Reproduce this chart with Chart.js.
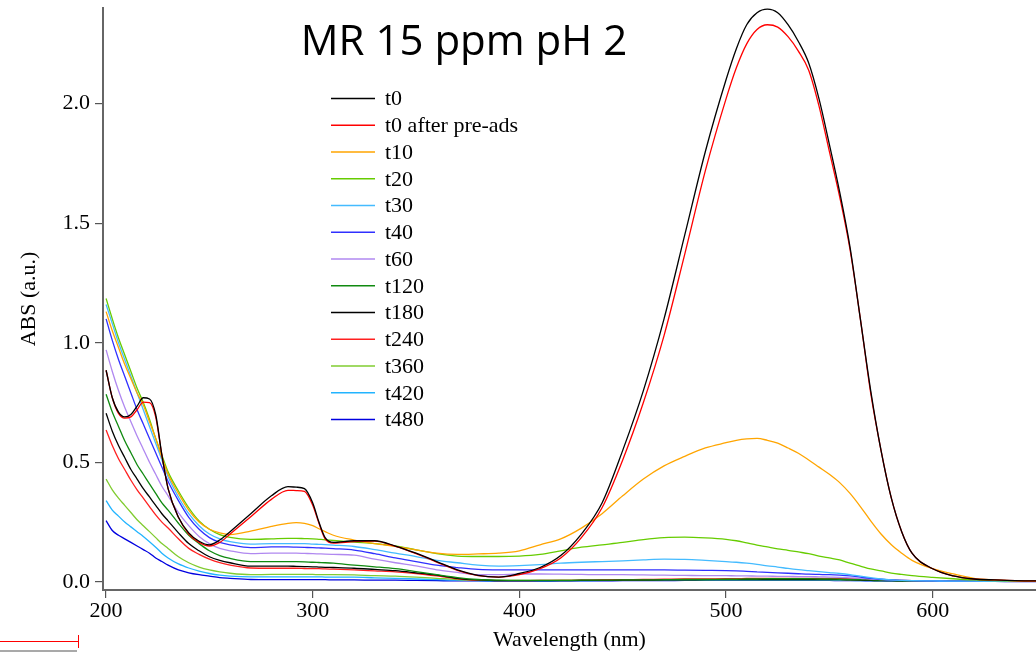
<!DOCTYPE html>
<html><head><meta charset="utf-8">
<script src="https://cdn.jsdelivr.net/npm/chart.js@4.4.0/dist/chart.umd.min.js"></script>
<style>html,body{margin:0;padding:0;background:#fff;}#wrap{width:1036px;height:656px;}</style>
</head><body><div id="wrap"><canvas id="c" width="1036" height="656"></canvas></div>
<script>
// ---- data ----
const wavelengths = [200,203,206,209,212,215,218,221,224,227,230,235,240,245,250,255,260,270,280,288,292,296,300,303,306,310,320,330,340,350,360,370,380,390,400,410,420,430,440,450,460,470,480,490,500,505,510,515,520,525,530,535,540,545,550,555,560,565,570,575,580,585,590,600,610,620,630,640,650];

const absT0 = [0.885,0.77,0.71,0.69,0.70,0.735,0.77,0.765,0.70,0.53,0.39,
 0.27,0.205,0.17,0.155,0.175,0.21,
 0.285,0.36,0.398,0.396,0.39,0.33,0.25,0.185,0.165,
 0.172,0.172,0.15,0.12,0.085,0.05,0.027,0.02,0.035,0.06,0.11,0.2,0.33,0.55,0.8,1.1,1.45,1.8,2.1,
 2.23,2.33,2.38,2.395,2.38,2.33,2.26,2.17,2.02,1.83,1.63,1.4,1.1,0.8,0.55,0.35,0.21,0.12,
 0.055,0.025,0.012,0.008,0.005,0.004];
const absT0Pre = [0.885,0.77,0.705,0.685,0.69,0.72,0.752,0.75,0.69,0.53,0.39,
 0.27,0.2,0.165,0.15,0.165,0.2,
 0.272,0.345,0.383,0.382,0.378,0.32,0.245,0.18,0.162,
 0.168,0.17,0.148,0.118,0.083,0.048,0.026,0.02,0.03,0.055,0.1,0.185,0.31,0.51,0.75,1.03,1.37,1.72,2.02,
 2.15,2.25,2.31,2.33,2.32,2.28,2.22,2.14,1.99,1.8,1.61,1.39,1.1,0.79,0.55,0.35,0.21,0.12,
 0.055,0.025,0.012,0.008,0.005,0.004];
const absT10 = [1.13,1.05,0.98,0.91,0.85,0.79,0.74,0.67,0.60,0.52,0.45,
 0.37,0.30,0.25,0.22,0.205,0.198,
 0.212,0.232,0.245,0.248,0.245,0.235,0.222,0.21,0.195,
 0.175,0.16,0.148,0.134,0.12,0.115,0.117,0.12,0.13,0.155,0.18,0.225,0.285,0.36,0.43,0.485,0.525,0.56,0.582,
 0.592,0.598,0.6,0.592,0.58,0.56,0.538,0.51,0.48,0.45,0.415,0.37,0.315,0.255,0.2,0.155,0.12,0.09,
 0.055,0.033,0.015,0.008,0.004,0.002];
const absT20 = [1.185,1.10,1.02,0.95,0.88,0.81,0.75,0.68,0.60,0.53,0.46,
 0.38,0.31,0.255,0.22,0.198,0.186,
 0.178,0.18,0.182,0.182,0.181,0.18,0.178,0.176,0.173,
 0.166,0.16,0.15,0.134,0.118,0.108,0.106,0.106,0.108,0.115,0.13,0.145,0.155,0.165,0.177,0.185,0.187,0.184,0.178,
 0.172,0.163,0.154,0.146,0.138,0.132,0.125,0.118,0.108,0.1,0.092,0.078,0.066,0.054,0.046,0.037,0.031,0.026,
 0.019,0.013,0.008,0.005,0.004,0.003];
const absT30 = [1.16,1.08,1.0,0.93,0.86,0.79,0.72,0.65,0.58,0.51,0.44,
 0.355,0.285,0.235,0.2,0.18,0.168,
 0.158,0.16,0.16,0.16,0.16,0.158,0.157,0.156,0.154,
 0.148,0.135,0.12,0.106,0.09,0.08,0.07,0.066,0.068,0.072,0.078,0.082,0.085,0.088,0.092,0.095,0.094,0.09,0.085,
 0.082,0.078,0.073,0.067,0.062,0.056,0.051,0.047,0.043,0.039,0.035,0.03,0.024,0.018,0.012,0.008,0.006,0.005,
 0.004,0.003,0.003,0.002,0.002,0.002];
const absT40 = [1.10,1.01,0.93,0.86,0.79,0.72,0.66,0.60,0.54,0.48,0.42,
 0.34,0.27,0.22,0.185,0.165,0.155,
 0.143,0.146,0.146,0.145,0.144,0.143,0.142,0.141,0.139,
 0.133,0.118,0.1,0.085,0.07,0.06,0.052,0.05,0.05,0.05,0.05,0.05,0.05,0.05,0.05,0.05,0.049,0.048,0.047,
 0.046,0.044,0.042,0.04,0.038,0.036,0.034,0.032,0.031,0.03,0.028,0.025,0.02,0.015,0.011,0.008,0.006,0.005,
 0.004,0.003,0.003,0.002,0.002,0.002];
const absT60 = [0.97,0.88,0.80,0.73,0.67,0.61,0.555,0.50,0.45,0.40,0.36,
 0.29,0.235,0.19,0.16,0.14,0.13,
 0.118,0.12,0.12,0.12,0.119,0.118,0.117,0.116,0.115,
 0.112,0.095,0.08,0.067,0.05,0.04,0.03,0.03,0.033,0.033,0.032,0.031,0.03,0.03,0.029,0.028,0.027,0.026,0.026,
 0.025,0.025,0.024,0.024,0.023,0.023,0.022,0.022,0.021,0.02,0.019,0.017,0.015,0.012,0.01,0.008,0.006,0.005,
 0.004,0.003,0.003,0.002,0.002,0.002];
const absT120 = [0.785,0.71,0.65,0.59,0.54,0.49,0.45,0.41,0.37,0.33,0.30,
 0.245,0.195,0.16,0.13,0.11,0.098,
 0.085,0.085,0.085,0.085,0.084,0.082,0.081,0.08,0.078,
 0.07,0.063,0.055,0.043,0.03,0.018,0.01,0.007,0.006,0.006,0.006,0.007,0.007,0.008,0.008,0.009,0.01,0.01,0.011,
 0.011,0.012,0.012,0.013,0.013,0.013,0.013,0.013,0.012,0.012,0.011,0.01,0.009,0.008,0.007,0.006,0.005,0.004,
 0.004,0.003,0.003,0.002,0.002,0.002];
const absT180 = [0.705,0.63,0.57,0.52,0.47,0.43,0.39,0.355,0.32,0.285,0.255,
 0.205,0.16,0.13,0.105,0.09,0.08,
 0.066,0.066,0.066,0.065,0.064,0.063,0.062,0.061,0.06,
 0.057,0.052,0.047,0.038,0.028,0.015,0.008,0.005,0.005,0.005,0.005,0.006,0.006,0.007,0.007,0.008,0.008,0.009,0.009,
 0.009,0.01,0.01,0.01,0.01,0.01,0.01,0.01,0.01,0.009,0.009,0.008,0.007,0.006,0.005,0.005,0.004,0.004,
 0.003,0.003,0.002,0.002,0.002,0.002];
const absT240 = [0.635,0.57,0.515,0.47,0.425,0.385,0.35,0.315,0.28,0.25,0.225,
 0.18,0.14,0.115,0.095,0.08,0.07,
 0.058,0.057,0.057,0.057,0.056,0.055,0.055,0.054,0.053,
 0.05,0.046,0.042,0.035,0.025,0.013,0.007,0.005,0.005,0.006,0.006,0.007,0.008,0.009,0.01,0.011,0.012,0.012,0.013,
 0.013,0.014,0.014,0.015,0.015,0.015,0.015,0.015,0.015,0.015,0.014,0.013,0.012,0.01,0.009,0.008,0.006,0.005,
 0.004,0.003,0.003,0.002,0.002,0.002];
const absT360 = [0.43,0.385,0.35,0.32,0.29,0.26,0.235,0.21,0.185,0.16,0.14,
 0.105,0.08,0.062,0.05,0.042,0.036,
 0.03,0.031,0.031,0.031,0.031,0.031,0.03,0.03,0.03,
 0.029,0.026,0.024,0.02,0.015,0.01,0.007,0.006,0.006,0.006,0.007,0.007,0.008,0.008,0.009,0.009,0.01,0.01,0.01,
 0.01,0.01,0.01,0.01,0.01,0.01,0.01,0.01,0.009,0.009,0.009,0.008,0.007,0.006,0.005,0.005,0.004,0.004,
 0.003,0.003,0.002,0.002,0.002,0.002];
const absT420 = [0.34,0.30,0.275,0.25,0.23,0.21,0.19,0.168,0.145,0.12,0.10,
 0.075,0.058,0.045,0.035,0.028,0.024,
 0.021,0.021,0.021,0.021,0.021,0.021,0.021,0.02,0.02,
 0.02,0.017,0.015,0.012,0.009,0.007,0.005,0.004,0.004,0.004,0.005,0.005,0.006,0.006,0.006,0.007,0.007,0.007,0.007,
 0.007,0.007,0.007,0.007,0.007,0.007,0.007,0.007,0.007,0.007,0.006,0.006,0.005,0.005,0.004,0.004,0.003,0.003,
 0.003,0.002,0.002,0.002,0.002,0.002];
const absT480 = [0.256,0.215,0.195,0.18,0.165,0.15,0.135,0.12,0.10,0.085,0.07,
 0.05,0.038,0.03,0.024,0.018,0.015,
 0.01,0.009,0.009,0.009,0.009,0.009,0.009,0.009,0.008,
 0.008,0.007,0.007,0.006,0.005,0.004,0.004,0.003,0.003,0.003,0.004,0.004,0.004,0.005,0.005,0.005,0.006,0.006,0.006,
 0.006,0.006,0.006,0.006,0.006,0.006,0.006,0.006,0.006,0.006,0.005,0.005,0.005,0.004,0.004,0.003,0.003,0.003,
 0.002,0.002,0.002,0.002,0.001,0.001];

const seriesNames = ["t0","t0 after pre-ads","t10","t20","t30","t40","t60","t120","t180","t240","t360","t420","t480"];
const seriesValues = [absT0,absT0Pre,absT10,absT20,absT30,absT40,absT60,absT120,absT180,absT240,absT360,absT420,absT480];
const xTickValues = [200,300,400,500,600];
const yTickValues = [0,0.5,1.0,1.5,2.0];
const chartTitle = "MR 15 ppm pH 2";
const xTitle = "Wavelength (nm)";
const yTitle = "ABS (a.u.)";

// ---- styles ----
const seriesColors = ["#000000","#ff0000","#ffa500","#66cc00","#44bbff","#3030ff","#b088f0","#108a10","#000000","#ff2020","#80cc30","#22b4ff","#0000e0"];
const serif = "'Liberation Serif','Times New Roman',serif";

const datasets = seriesNames.map((name, i) => ({
  label: name,
  data: wavelengths.map((w, j) => ({x: w, y: seriesValues[i][j]})),
  borderColor: seriesColors[i],
  backgroundColor: seriesColors[i],
  borderWidth: 1.3,
  pointRadius: 0,
  cubicInterpolationMode: 'monotone',
  fill: false
}));

const overlay = {
  id: 'overlay',
  afterDraw(chart) {
    const ctx = chart.ctx;
    ctx.save();
    // title
    ctx.fillStyle = '#000';
    ctx.font = "42px 'Open Sans', sans-serif";
    ctx.textAlign = 'center';
    ctx.textBaseline = 'alphabetic';
    ctx.fillText(chartTitle, 464, 55);
    // legend
    ctx.font = "22px " + serif;
    ctx.textAlign = 'left';
    ctx.textBaseline = 'middle';
    chart.data.datasets.forEach((ds, i) => {
      const y = 98.5 + i * 26.75;
      ctx.strokeStyle = ds.borderColor;
      ctx.lineWidth = 1.6;
      ctx.beginPath(); ctx.moveTo(331, y); ctx.lineTo(375, y); ctx.stroke();
      ctx.fillStyle = '#000';
      ctx.fillText(ds.label, 385, y + 1);
    });
    // cursor marker at bottom left
    ctx.strokeStyle = '#ff0000'; ctx.lineWidth = 1;
    ctx.beginPath(); ctx.moveTo(0, 641.5); ctx.lineTo(78, 641.5); ctx.stroke();
    ctx.beginPath(); ctx.moveTo(78.5, 635); ctx.lineTo(78.5, 648); ctx.stroke();
    ctx.strokeStyle = '#555'; ctx.lineWidth = 1.2;
    ctx.beginPath(); ctx.moveTo(0, 651); ctx.lineTo(77, 651); ctx.stroke();
    ctx.restore();
  }
};

new Chart(document.getElementById('c'), {
  type: 'line',
  data: { datasets },
  options: {
    responsive: false,
    animation: false,
    devicePixelRatio: 1,
    layout: { padding: { top: 8, right: 0, left: 0, bottom: 0 } },
    plugins: { legend: { display: false }, tooltip: { enabled: false } },
    scales: {
      x: {
        type: 'linear', min: 198.5, max: 650,
        afterFit(s) { s.height = 66; s.paddingLeft = 0; s.paddingRight = 0; },
        afterBuildTicks(s) { s.ticks = xTickValues.map(v => ({value: v})); },
        ticks: { font: { family: serif, size: 22 }, color: '#000', padding: 0, maxRotation: 0, autoSkip: false,
                 callback: v => String(v) },
        grid: { display: true, drawOnChartArea: false, drawTicks: true, tickLength: 8, color: '#555', lineWidth: 1.2 },
        border: { display: true, color: '#666', width: 2 },
        title: { display: true, text: xTitle, font: { family: serif, size: 22 }, color: '#000', padding: { top: 0, bottom: 3 } }
      },
      y: {
        type: 'linear', min: -0.034, max: 2.4,
        afterFit(s) { s.width = 103; s.paddingTop = 0; s.paddingBottom = 0; },
        afterBuildTicks(s) { s.ticks = yTickValues.map(v => ({value: v})); },
        ticks: { font: { family: serif, size: 22 }, color: '#000', padding: 5, autoSkip: false,
                 callback: v => Number(v).toFixed(1) },
        grid: { display: true, drawOnChartArea: false, drawTicks: true, tickLength: 8, color: '#555', lineWidth: 1.2 },
        border: { display: true, color: '#666', width: 2 },
        title: { display: true, text: yTitle, font: { family: serif, size: 22 }, color: '#000', padding: { top: 16, bottom: 0 } }
      }
    }
  },
  plugins: [overlay]
});
</script>
</body></html>
